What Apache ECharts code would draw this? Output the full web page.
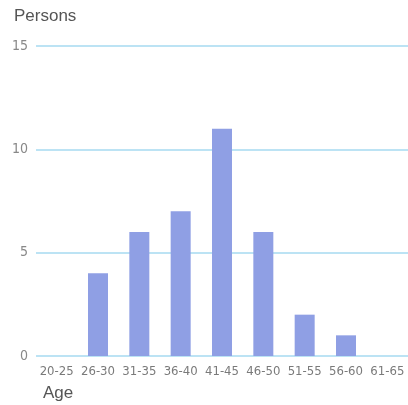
<!DOCTYPE html>
<html><head><meta charset="utf-8">
<script src="https://cdn.jsdelivr.net/npm/echarts@6/dist/echarts.min.js"></script>
<style>html,body{margin:0;padding:0;background:#fff}#c{width:408px;height:405px}</style>
</head><body><div id="c"></div>
<script>
const categories = ['20-25','26-30','31-35','36-40','41-45','46-50','51-55','56-60','61-65'];
const persons = [0,4,6,7,11,6,2,1,0];
const yTicks = [0,5,10,15];
const chart = echarts.init(document.getElementById('c'));
chart.setOption({
  animation:false,
  backgroundColor:'#fff',
  grid:{left:36,right:-6,top:46,bottom:49,containLabel:false},
  graphic:[
    {type:'text',left:14,top:8,style:{text:'Persons',font:'17px "Liberation Sans", Arial, sans-serif',fill:'#555'}},
    {type:'text',left:43,top:385,style:{text:'Age',font:'17px "Liberation Sans", Arial, sans-serif',fill:'#555'}}
  ],
  xAxis:{type:'category',data:categories,
    axisLine:{show:false},axisTick:{show:false},
    axisLabel:{color:'#7a7a7a',fontSize:13,fontFamily:'"Liberation Sans Narrow", "DejaVu Sans Condensed", sans-serif',margin:9,interval:0}},
  yAxis:{type:'value',min:0,max:15,interval:5,
    axisLine:{show:false},axisTick:{show:false},
    axisLabel:{color:'#888',fontSize:14,fontFamily:'"Liberation Sans Narrow", "DejaVu Sans Condensed", sans-serif',margin:8,
      formatter:v=>yTicks.includes(v)?String(v):''},
    splitLine:{lineStyle:{color:'#a6daf0',width:1.5}}},
  series:[{type:'bar',data:persons,barWidth:20,itemStyle:{color:'#8f9fe4'}}]
});
</script></body></html>
